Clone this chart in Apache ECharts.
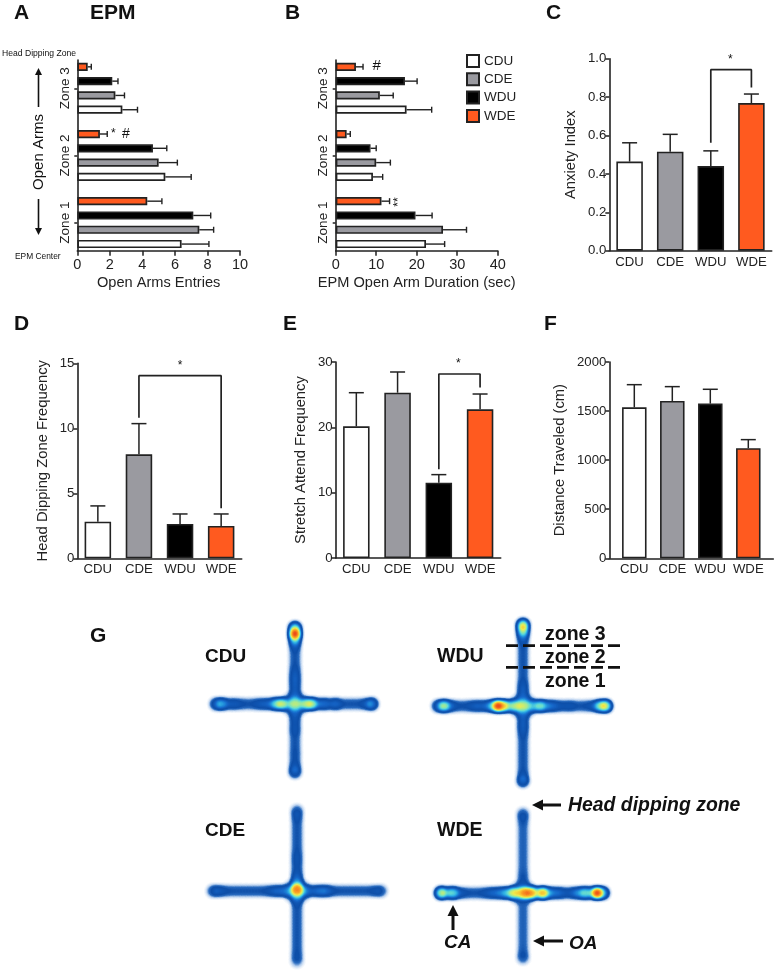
<!DOCTYPE html>
<html>
<head>
<meta charset="utf-8">
<style>
  html, body { margin: 0; padding: 0; background: #fff; }
  #main { width: 775px; height: 976px; }
</style>
<script src="https://cdn.jsdelivr.net/npm/echarts@6/dist/echarts.min.js"></script>
</head>
<body>
<div id="main"></div>
<script>
var groups = ["CDU", "CDE", "WDU", "WDE"];
var zones = ["Zone 1", "Zone 2", "Zone 3"];

// panel A, one value per zone
var entriesCdu = [6.41, 5.41, 2.77];
var entriesCde = [7.5, 5.0, 2.34];
var entriesWdu = [7.13, 4.65, 2.15];
var entriesWde = [4.3, 1.39, 0.64];
var entriesCduErr = [1.68, 1.59, 0.93];
var entriesCdeErr = [0.88, 1.15, 0.56];
var entriesWduErr = [1.07, 0.85, 0.35];
var entriesWdeErr = [0.9, 0.45, 0.22];

// panel B
var durationCdu = [22.3, 9.2, 17.5];
var durationCde = [26.5, 10, 10.9];
var durationWdu = [19.7, 8.6, 17.1];
var durationWde = [11.3, 2.7, 5];
var durationCduErr = [4.6, 2.4, 6.2];
var durationCdeErr = [5.8, 3.5, 3.3];
var durationWduErr = [4.1, 1.4, 3];
var durationWdeErr = [2, 0.9, 1.75];

// panels C to F, one value per group
var anxietyValues = [0.464, 0.516, 0.441, 0.769];
var anxietyErr = [0.098, 0.09, 0.079, 0.047];
var anxietyBracket = [[2, 0.5625], [2, 0.943], [3, 0.943], [3, 0.85]];

var dippingValues = [2.82, 8.0, 2.64, 2.49];
var dippingErr = [1.21, 2.36, 0.77, 0.92];
var dippingBracket = [[1, 10.82], [1, 14.05], [3, 14.05], [3, 3.85]];

var stretchValues = [20.15, 25.3, 11.53, 22.75];
var stretchErr = [5.15, 3.17, 1.23, 2.35];
var stretchBracket = [[2, 13.57], [2, 28.16], [3, 28.16], [3, 26.1]];

var distanceValues = [1538, 1603, 1576, 1121];
var distanceErr = [231, 146, 146, 88];

// panel G, heat read along each arm, one reading every 6 px
var cduAcross = [.28, .36, .16, .2, .15, .12, .12, .18, .2, .22, .45, .55, .25, .3, .25, .5, .55, .2, .26, .16, .26, .12, .12, .12, .12, .2, .36];
var cduAlong = [.55, .9, .4, .2, .12, .12, .12, .16, .2, .2, .18, .2, .22, .22, .2, .18, .14, .18, .12, .12, .12, .14, .12, .18, .28];
var wduAcross = [.28, .55, .25, .14, .12, .14, .2, .2, .2, .4, .9, .62, .38, .45, .3, .3, .3, .48, .28, .24, .18, .14, .18, .12, .12, .14, .2, .5, .62];
var wduAlong = [.65, .5, .25, .14, .12, .12, .12, .12, .12, .12, .18, .2, .2, .2, .2, .2, .18, .2, .16, .12, .12, .12, .12, .12, .12, .16, .3];
var cdeAcross = [.2, .2, .14, .12, .12, .12, .12, .12, .12, .14, .2, .22, .24, .26, .3, .26, .2, .2, .26, .24, .14, .12, .12, .12, .12, .12, .12, .16, .18];
var cdeAlong = [.18, .16, .12, .12, .12, .12, .12, .14, .16, .14, .14, .22, .3, .7, .3, .2, .12, .12, .12, .12, .12, .12, .12, .12, .14, .14];
var wdeAcross = [.6, .3, .45, .2, .14, .12, .12, .14, .2, .22, .28, .36, .55, .45, .72, .7, .42, .7, .3, .24, .22, .14, .22, .3, .45, .3, .9, .45];
var wdeAlong = [.18, .14, .1, .1, .1, .1, .1, .1, .1, .1, .12, .14, .14, .1, .1, .1, .1, .1, .1, .1, .1, .1, .1, .12, .16];
var hubHeat = [.12, .14, .12, .14];

var colorWhite = "#ffffff";
var colorGray = "#9a9aa0";
var colorBlack = "#000000";
var colorOrange = "#ff5a1f";
var groupColors = [colorWhite, colorGray, colorBlack, colorOrange];
var ink = "#222222";
var fontName = '"Liberation Sans", Arial, sans-serif';
var pageW = 775;
var pageH = 976;
var barPitch = 14.3;

var grids = [];
var xAxes = [];
var yAxes = [];
var series = [];

function addGrid(l, t, r, b) {
  grids.push({ left: l, top: t, width: r - l, height: b - t });
  return grids.length - 1;
}

// draws only the axis lines, ticks and tick labels of a panel
function frameX(grid, o) {
  xAxes.push(Object.assign({
    gridIndex: grid, type: "value", min: 0, max: 1,
    axisLine: { show: true, onZero: false, lineStyle: { color: ink, width: 1.6 } },
    axisTick: { show: false }, axisLabel: { show: false }, splitLine: { show: false }
  }, o || {}));
}

function frameY(grid, o) {
  yAxes.push(Object.assign({
    gridIndex: grid, type: "value", min: 0, max: 1,
    axisLine: { show: true, onZero: false, lineStyle: { color: ink, width: 1.6 } },
    axisTick: { show: false }, axisLabel: { show: false }, splitLine: { show: false }
  }, o || {}));
}

function horizontalErrors(axis, groupIndex, values, errs) {
  series.push({
    type: "custom", xAxisIndex: axis, yAxisIndex: axis, silent: true, z: 3,
    data: values.map(function (v, i) { return [v, i, v + errs[i]]; }),
    encode: { x: 2, y: 1 },
    renderItem: function (params, api) {
      var a = api.coord([api.value(0), api.value(1)]);
      var b = api.coord([api.value(2), api.value(1)]);
      var y = a[1] + barPitch * (1.5 - groupIndex);
      var style = { stroke: ink, lineWidth: 1.4, fill: null };
      return {
        type: "group", children: [
          { type: "line", shape: { x1: a[0], y1: y, x2: b[0], y2: y }, style: style },
          { type: "line", shape: { x1: b[0], y1: y - 3, x2: b[0], y2: y + 3 }, style: style }
        ]
      };
    }
  });
}

function horizontalPanel(left, right, max, interval, name, sets, errs) {
  var frame = addGrid(left, 60, right, 250.7);
  frameX(frame, {
    min: 0, max: max, interval: interval,
    name: name, nameLocation: "middle", nameGap: 25,
    nameTextStyle: { color: ink, fontSize: 14.6, fontFamily: fontName },
    axisTick: { show: true, length: 5, lineStyle: { color: ink, width: 1.5 } },
    axisLabel: { show: true, color: ink, fontSize: 14.5, fontFamily: fontName, margin: 7 }
  });
  frameY(frame);

  var data = addGrid(left, 54.7, right, 256.2);
  xAxes.push({ gridIndex: data, type: "value", min: 0, max: max, show: false });
  yAxes.push({
    gridIndex: data, type: "category", data: zones,
    axisLine: { show: false },
    axisTick: { show: true, alignWithLabel: true, length: 3, lineStyle: { color: ink, width: 1.5 } },
    axisLabel: { color: ink, fontSize: 13.5, fontFamily: fontName, rotate: 90, margin: 5, align: "center" }
  });
  // later series sit lower in a band, so WDE goes first to end up on top
  for (var g = sets.length - 1; g >= 0; g--) {
    series.push({
      type: "bar", name: groups[g], xAxisIndex: data, yAxisIndex: data, data: sets[g],
      barWidth: 8.2, barGap: "74%", silent: true,
      itemStyle: { color: groupColors[g], borderColor: ink, borderWidth: 1.7 }
    });
  }
  sets.forEach(function (values, g) { horizontalErrors(data, g, values, errs[g]); });
}

function verticalPanel(frameBox, dataLeft, dataRight, max, interval, name, nameGap, labelFormat, values, errs, barW, bracket) {
  var frame = addGrid(frameBox[0], frameBox[1], frameBox[2], frameBox[3]);
  frameX(frame);
  frameY(frame, {
    min: 0, max: max, interval: interval,
    name: name, nameLocation: "middle", nameGap: nameGap,
    nameTextStyle: { color: ink, fontSize: 14.8, fontFamily: fontName },
    axisTick: { show: true, length: 4, lineStyle: { color: ink, width: 1.5 } },
    axisLabel: { show: true, color: ink, fontSize: 13.2, fontFamily: fontName, margin: 3, formatter: labelFormat }
  });

  var data = addGrid(dataLeft, frameBox[1], dataRight, frameBox[3]);
  xAxes.push({
    gridIndex: data, type: "category", data: groups,
    axisLine: { show: false }, axisTick: { show: false },
    axisLabel: { color: ink, fontSize: 13.2, fontFamily: fontName, margin: 5, interval: 0 }
  });
  yAxes.push({ gridIndex: data, type: "value", min: 0, max: max, show: false });
  series.push({
    type: "bar", xAxisIndex: data, yAxisIndex: data, barWidth: barW, silent: true,
    data: values.map(function (v, i) {
      return { value: v, itemStyle: { color: groupColors[i], borderColor: ink, borderWidth: 1.6 } };
    })
  });
  series.push({
    type: "custom", xAxisIndex: data, yAxisIndex: data, silent: true, z: 1,
    data: values.map(function (v, i) { return [i, v, v + errs[i]]; }),
    encode: { x: 0, y: 2 },
    renderItem: function (params, api) {
      var a = api.coord([api.value(0), api.value(1)]);
      var b = api.coord([api.value(0), api.value(2)]);
      var style = { stroke: ink, lineWidth: 1.5, fill: null };
      return {
        type: "group", children: [
          { type: "line", shape: { x1: a[0], y1: a[1], x2: b[0], y2: b[1] }, style: style },
          { type: "line", shape: { x1: b[0] - 7.5, y1: b[1], x2: b[0] + 7.5, y2: b[1] }, style: style }
        ]
      };
    }
  });
  if (bracket) {
    series.push({
      type: "line", xAxisIndex: data, yAxisIndex: data, data: bracket, silent: true, z: 4,
      showSymbol: false, symbol: "none", lineStyle: { color: ink, width: 1.7 }
    });
  }
}

horizontalPanel(77.3, 240, 10, 2, "Open Arms Entries",
  [entriesCdu, entriesCde, entriesWdu, entriesWde],
  [entriesCduErr, entriesCdeErr, entriesWduErr, entriesWdeErr]);
horizontalPanel(335.7, 497.7, 40, 10, "EPM Open Arm Duration (sec)",
  [durationCdu, durationCde, durationWdu, durationWde],
  [durationCduErr, durationCdeErr, durationWduErr, durationWdeErr]);

function oneDecimal(v) { return v.toFixed(1); }
function plainNumber(v) { return String(v); }

verticalPanel([609.3, 58.7, 771.7, 250.7], 609.3, 771.7, 1, 0.2, "Anxiety Index", 31, oneDecimal,
  anxietyValues, anxietyErr, 26.5, anxietyBracket);
verticalPanel([77.3, 363.3, 241.7, 558.3], 77.3, 241.7, 15, 5, "Head Dipping Zone Frequency", 27, plainNumber,
  dippingValues, dippingErr, 26.5, dippingBracket);
verticalPanel([335.7, 362, 500.7, 558], 335.7, 500.7, 30, 10, "Stretch Attend Frequency", 27, plainNumber,
  stretchValues, stretchErr, 26.5, stretchBracket);
verticalPanel([609.3, 362, 773.3, 558.3], 615.3, 767.3, 2000, 500, "Distance Traveled (cm)", 42, plainNumber,
  distanceValues, distanceErr, 24.5, null);

// four heat maps on one page-sized geo, built from the arm readings
var maze = {
  cdu: { x: 295, y: 704, left: 216, top: 628, across: cduAcross, along: cduAlong },
  wdu: { x: 523, y: 706, left: 438, top: 625, across: wduAcross, along: wduAlong },
  cde: { x: 297, y: 891, left: 213, top: 811, across: cdeAcross, along: cdeAlong },
  wde: { x: 523, y: 893, left: 441, top: 814, across: wdeAcross, along: wdeAlong }
};
var heatPoints = [];
Object.keys(maze).forEach(function (k, m) {
  var c = maze[k];
  c.across.forEach(function (v, i) { heatPoints.push([c.left + i * 6, pageH - c.y, v]); });
  c.along.forEach(function (v, i) { heatPoints.push([c.x, pageH - (c.top + i * 6), v]); });
  [[-6, -5], [6, -5], [-6, 5], [6, 5]].forEach(function (d) {
    heatPoints.push([c.x + d[0], pageH - c.y - d[1], hubHeat[m]]);
  });
});

echarts.registerMap("page", {
  geoJSON: {
    type: "FeatureCollection",
    features: [{
      type: "Feature", properties: { name: "page" },
      geometry: { type: "Polygon", coordinates: [[[0, 0], [pageW, 0], [pageW, pageH], [0, pageH], [0, 0]]] }
    }]
  }
});

series.push({
  type: "heatmap", coordinateSystem: "geo", geoIndex: 0, data: heatPoints,
  pointSize: 6, blurSize: 4, minOpacity: 1, maxOpacity: 1, silent: true
});

var graphicItems = [];

function label(x, y, text, size, extra) {
  graphicItems.push({
    type: "text", x: x, y: y, silent: true, z: 20,
    rotation: (extra && extra.rotation) || 0,
    style: {
      text: text, fill: (extra && extra.fill) || "#111111",
      font: ((extra && extra.weight) || "normal") + " " + size + "px " + fontName,
      align: (extra && extra.align) || "left", verticalAlign: "middle"
    }
  });
}

function arrow(x1, y1, x2, y2, width, head) {
  var dx = x2 - x1, dy = y2 - y1, len = Math.sqrt(dx * dx + dy * dy);
  var ux = dx / len, uy = dy / len;
  var bx = x2 - ux * head, by = y2 - uy * head;
  graphicItems.push({
    type: "line", silent: true, z: 20,
    shape: { x1: x1, y1: y1, x2: bx, y2: by },
    style: { stroke: "#111111", lineWidth: width }
  });
  graphicItems.push({
    type: "polygon", silent: true, z: 20,
    shape: { points: [[x2, y2], [bx - uy * head * 0.5, by + ux * head * 0.5], [bx + uy * head * 0.5, by - ux * head * 0.5]] },
    style: { fill: "#111111" }
  });
}

function dashed(x1, x2, y) {
  graphicItems.push({
    type: "line", silent: true, z: 20,
    shape: { x1: x1, y1: y, x2: x2, y2: y },
    style: { stroke: "#111111", lineWidth: 2.8, lineDash: [12, 5] }
  });
}

var bold = { weight: "bold" };
var boldItalic = { weight: "italic bold" };

label(14, 13, "A", 21, bold);
label(285, 13, "B", 21, bold);
label(546, 13, "C", 21, bold);
label(14, 324, "D", 21, bold);
label(283, 324, "E", 21, bold);
label(544, 324, "F", 21, bold);
label(90, 636, "G", 21, bold);
label(90, 13, "EPM", 21, bold);

label(2, 54, "Head Dipping Zone", 8.6);
label(15, 257, "EPM Center", 8.4);
label(39, 152, "Open Arms", 15, { rotation: Math.PI / 2, align: "center" });
arrow(38.5, 107, 38.5, 68, 1.6, 7);
arrow(38.5, 199, 38.5, 235, 1.6, 7);

label(113.3, 134, "*", 12, { align: "center" });
label(126, 134, "#", 14, { align: "center" });
label(376.7, 66, "#", 15, { align: "center" });
label(398.5, 202, "**", 12, { rotation: Math.PI / 2, align: "center" });
label(730.3, 60, "*", 12, { align: "center" });
label(180, 366, "*", 12, { align: "center" });
label(458.3, 364, "*", 12, { align: "center" });

label(205, 657, "CDU", 19, bold);
label(437, 657, "WDU", 19.5, bold);
label(205, 831, "CDE", 19, bold);
label(437, 831, "WDE", 19.5, bold);
label(545, 635, "zone 3", 19.5, bold);
label(545, 658, "zone 2", 19.5, bold);
label(545, 682, "zone 1", 19.5, bold);
dashed(506, 623, 645.7);
dashed(506, 623, 667.3);

label(568, 806, "Head dipping zone", 19.4, boldItalic);
arrow(561, 805, 532, 805, 3, 11);
label(444, 943, "CA", 19, boldItalic);
arrow(453, 930, 453, 905, 3, 11);
label(569, 944, "OA", 19, boldItalic);
arrow(563, 941, 533, 941, 3, 11);

var chart = echarts.init(document.getElementById("main"), null, { renderer: "canvas" });
chart.setOption({
  animation: false,
  backgroundColor: "#ffffff",
  textStyle: { fontFamily: fontName },
  legend: {
    show: true, orient: "vertical", left: 466, top: 54, padding: 0, icon: "rect",
    itemWidth: 12, itemHeight: 12, itemGap: 4.3,
    data: groups, selectedMode: false,
    textStyle: { color: ink, fontSize: 13.5, fontFamily: fontName }
  },
  geo: {
    map: "page", left: 0, top: 0, width: pageW, height: pageH, aspectScale: 1, silent: true, z: 1,
    label: { show: false },
    itemStyle: { areaColor: "rgba(0,0,0,0)", borderWidth: 0 }
  },
  visualMap: {
    show: false, type: "continuous", min: 0, max: 1, seriesIndex: series.length - 1,
    inRange: { color: ["#ffffff", "#b8d0ee", "#2a6cc0", "#0d4ea8", "#0f55b2", "#1565c8", "#1e88d8", "#33b5e5", "#66dcd0", "#a8ea90", "#ecec50", "#f8c030", "#f89020", "#ea4a18", "#c81010"] }
  },
  grid: grids,
  xAxis: xAxes,
  yAxis: yAxes,
  series: series,
  graphic: graphicItems
});
</script>
</body>
</html>
